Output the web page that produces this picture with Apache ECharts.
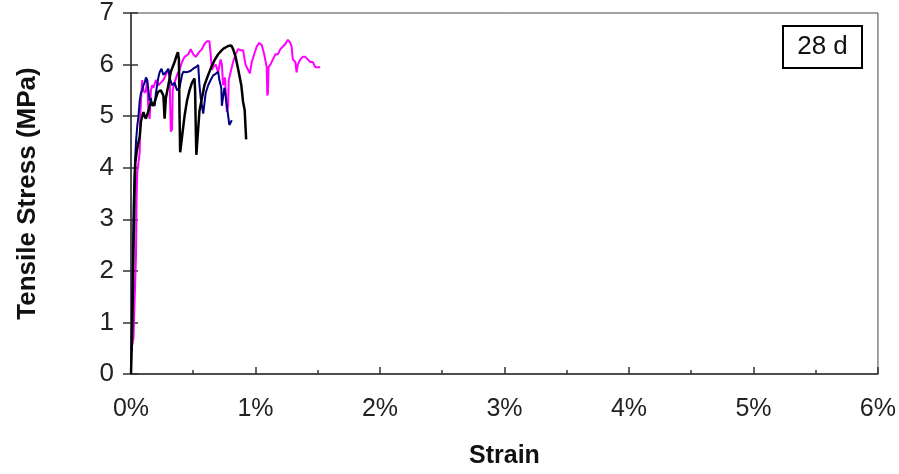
<!DOCTYPE html>
<html>
<head>
<meta charset="utf-8">
<script src="https://cdn.jsdelivr.net/npm/echarts@6/dist/echarts.min.js"></script>
<style>
  html, body { margin: 0; padding: 0; background: #fff; }
  #chart { width: 899px; height: 474px; }
</style>
</head>
<body>
<div id="chart"></div>
<script>
// Strain in %, stress in MPa
const xTicks = [0, 1, 2, 3, 4, 5, 6];
const yTicks = [0, 1, 2, 3, 4, 5, 6, 7];

const magentaSeries = [
  [0.01,0.56],[0.02,0.7],[0.03,1.5],[0.04,2.3],[0.045,3.4],[0.05,3.9],[0.06,4.1],[0.07,4.3],
  [0.075,5.0],[0.08,5.3],[0.09,5.7],[0.1,5.5],[0.11,5.45],[0.12,5.5],[0.13,5.7],[0.14,5.1],
  [0.15,4.95],[0.16,5.5],[0.17,5.6],[0.18,5.55],[0.2,5.7],[0.22,5.6],[0.24,5.65],[0.26,5.7],
  [0.28,5.8],[0.3,5.9],[0.31,5.85],[0.315,5.2],[0.32,4.7],[0.33,4.75],[0.335,5.5],[0.35,5.65],
  [0.37,5.8],[0.39,5.9],[0.41,6.05],[0.43,6.15],[0.46,6.2],[0.48,6.3],[0.5,6.2],[0.52,6.15],
  [0.55,6.25],[0.57,6.3],[0.59,6.4],[0.61,6.45],[0.63,6.45],[0.64,6.2],[0.65,5.9],[0.66,5.95],
  [0.68,6.0],[0.7,5.85],[0.72,6.1],[0.73,6.0],[0.74,5.6],[0.755,5.75],[0.765,5.3],[0.77,5.08],
  [0.78,5.2],[0.785,5.7],[0.8,5.85],[0.82,6.05],[0.84,6.2],[0.86,6.3],[0.88,6.28],[0.9,6.28],
  [0.92,6.0],[0.94,5.9],[0.955,5.83],[0.97,6.05],[0.99,6.2],[1.01,6.35],[1.03,6.42],[1.05,6.38],
  [1.07,6.2],[1.09,5.95],[1.095,5.4],[1.10,5.45],[1.105,5.95],[1.12,6.0],[1.14,6.1],[1.16,6.2],
  [1.18,6.2],[1.2,6.3],[1.22,6.35],[1.24,6.4],[1.26,6.48],[1.28,6.42],[1.29,6.35],[1.3,6.1],
  [1.32,6.05],[1.33,5.85],[1.34,6.0],[1.36,6.1],[1.38,6.15],[1.4,6.15],[1.42,6.1],[1.44,6.05],
  [1.46,6.05],[1.48,5.95],[1.5,5.95],[1.52,5.95]
];

const blueSeries = [
  [0.005,0.45],[0.01,1.7],[0.015,2.3],[0.02,3.2],[0.03,4.0],[0.04,4.5],[0.05,4.8],[0.06,5.0],
  [0.07,5.3],[0.08,5.45],[0.09,5.5],[0.1,5.6],[0.11,5.65],[0.12,5.75],[0.13,5.7],[0.14,5.5],
  [0.15,5.3],[0.16,5.35],[0.17,5.2],[0.18,5.25],[0.19,5.2],[0.2,5.45],[0.21,5.6],[0.22,5.75],
  [0.23,5.85],[0.245,5.92],[0.26,5.8],[0.28,5.85],[0.3,5.92],[0.31,5.75],[0.33,5.6],[0.35,5.65],
  [0.37,5.5],[0.39,5.55],[0.41,5.8],[0.42,5.86],[0.44,5.85],[0.46,5.86],[0.48,5.88],[0.5,5.92],
  [0.52,5.95],[0.54,5.99],[0.55,5.6],[0.56,5.35],[0.58,5.05],[0.6,5.45],[0.62,5.6],[0.64,5.7],
  [0.66,5.79],[0.68,5.82],[0.7,5.86],[0.71,5.7],[0.725,5.55],[0.73,5.2],[0.74,5.2],[0.75,5.55],
  [0.76,5.4],[0.765,5.28],[0.78,5.02],[0.79,4.83],[0.8,4.85],[0.81,4.92]
];

const blackSeries = [
  [0,0],[0.01,0.9],[0.015,1.6],[0.02,2.4],[0.025,3.0],[0.03,3.7],[0.035,4.1],[0.045,4.3],
  [0.056,4.45],[0.07,4.6],[0.08,4.9],[0.1,5.08],[0.11,5.0],[0.12,4.95],[0.14,5.1],[0.16,5.28],
  [0.18,5.2],[0.2,5.35],[0.217,5.47],[0.24,5.5],[0.26,5.4],[0.27,4.95],[0.28,5.35],[0.3,5.6],
  [0.32,5.86],[0.35,6.05],[0.37,6.2],[0.377,6.24],[0.385,6.1],[0.39,5.0],[0.395,4.3],[0.41,4.6],
  [0.43,5.0],[0.45,5.3],[0.47,5.5],[0.49,5.65],[0.51,5.73],[0.515,5.5],[0.52,4.8],[0.525,4.25],
  [0.535,4.6],[0.55,5.1],[0.57,5.35],[0.59,5.6],[0.62,5.8],[0.645,5.95],[0.67,6.08],[0.7,6.2],
  [0.73,6.28],[0.75,6.32],[0.78,6.36],[0.806,6.37],[0.82,6.3],[0.84,6.15],[0.86,5.92],[0.886,5.6],
  [0.9,5.28],[0.913,5.12],[0.92,5.1],[0.925,4.55]
];

const boxLabel = '28 d';
const xTitle = 'Strain';
const yTitle = 'Tensile Stress (MPa)';

const FONT = "'Liberation Sans', Arial, sans-serif";
const chart = echarts.init(document.getElementById('chart'), null, { renderer: 'canvas' });

const option = {
  animation: false,
  backgroundColor: '#ffffff',
  grid: {
    left: 131, right: 21, top: 13, bottom: 100,
    show: true, borderColor: '#444', borderWidth: 1, backgroundColor: 'transparent'
  },
  xAxis: {
    type: 'value',
    min: xTicks[0], max: xTicks[xTicks.length - 1], interval: 1,
    name: xTitle, nameLocation: 'middle', nameGap: 70,
    nameTextStyle: { fontFamily: FONT, fontWeight: 'bold', fontSize: 25, color: '#111' },
    axisLine: { show: true, lineStyle: { color: '#333', width: 1.5 } },
    axisTick: { show: true, inside: true, length: 7, lineStyle: { color: '#333', width: 1.5 } },
    minorTick: { show: true, splitNumber: 2, length: 4, lineStyle: { color: '#333', width: 1.5 } },
    axisLabel: { formatter: v => v + '%', fontFamily: FONT, fontSize: 25, color: '#222', margin: 23 },
    splitLine: { show: false }
  },
  yAxis: [{
    type: 'value',
    min: yTicks[0], max: yTicks[yTicks.length - 1], interval: 1,
    name: yTitle, nameLocation: 'middle', nameGap: 90, nameRotate: 90,
    nameTextStyle: { fontFamily: FONT, fontWeight: 'bold', fontSize: 26, color: '#111' },
    axisLine: { show: true, lineStyle: { color: '#333', width: 1.5 } },
    axisTick: { show: true, inside: false, length: 8, lineStyle: { color: '#333', width: 1.5 } },
    axisLabel: { fontFamily: FONT, fontSize: 26, color: '#222', margin: 17 },
    splitLine: { show: false }
  }, {
    type: 'value', position: 'left',
    min: yTicks[0], max: yTicks[yTicks.length - 1], interval: 1,
    axisLine: { show: false },
    axisTick: { show: true, inside: true, length: 7, lineStyle: { color: '#333', width: 1.5 } },
    axisLabel: { show: false },
    splitLine: { show: false }
  }],
  series: [
    { type: 'line', data: magentaSeries, showSymbol: false, lineStyle: { color: '#ff00ff', width: 2 }, z: 2 },
    { type: 'line', data: blueSeries, showSymbol: false, lineStyle: { color: '#000080', width: 2 }, z: 3 },
    { type: 'line', data: blackSeries, showSymbol: false, lineStyle: { color: '#000000', width: 2.5 }, z: 4 }
  ],
  graphic: [{
    type: 'group', left: 782, top: 25,
    children: [
      { type: 'rect', shape: { x: 0, y: 0, width: 79, height: 42 }, style: { fill: '#fff', stroke: '#000', lineWidth: 2 } },
      { type: 'text', style: { x: 39.5, y: 21, text: boxLabel, fontFamily: FONT, fontSize: 26, fill: '#111', align: 'center', verticalAlign: 'middle' } }
    ]
  }]
};
chart.setOption(option);
</script>
</body>
</html>
